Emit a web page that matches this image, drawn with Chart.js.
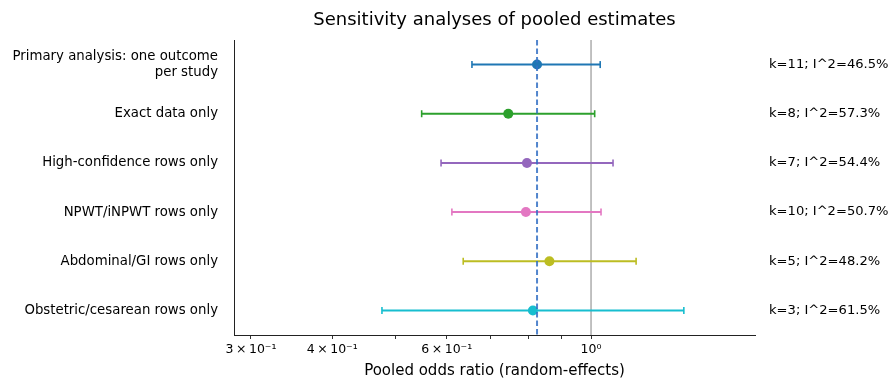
<!DOCTYPE html>
<html>
<head>
<meta charset="utf-8">
<script src="https://cdn.jsdelivr.net/npm/chart.js@4/dist/chart.umd.min.js"></script>
<style>
  html, body { margin: 0; padding: 0; background: #fff; }
  #wrap { width: 890px; height: 380px; position: relative; }
</style>
</head>
<body>
<div id="wrap"><canvas id="c" width="890" height="380"></canvas></div>
<script>
// ---- Data ----
const analyses = [
  ['Primary analysis: one outcome', 'per study'],
  'Exact data only',
  'High-confidence rows only',
  'NPWT/iNPWT rows only',
  'Abdominal/GI rows only',
  'Obstetric/cesarean rows only'
];
const estimates = [0.826, 0.746, 0.797, 0.794, 0.863, 0.814];
const lowerCI   = [0.656, 0.549, 0.588, 0.611, 0.636, 0.477];
const upperCI   = [1.033, 1.013, 1.081, 1.036, 1.173, 1.389];
const stats = [
  'k=11; I^2=46.5%',
  'k=8; I^2=57.3%',
  'k=7; I^2=54.4%',
  'k=10; I^2=50.7%',
  'k=5; I^2=48.2%',
  'k=3; I^2=61.5%'
];
const pooledPrimary = 0.826;
const nullValue = 1;
const xTickValues = [0.3, 0.4, 0.5, 0.6, 0.7, 0.8, 0.9, 1];
const xTickLabels = {0.3: '3\u2009×\u200910⁻¹', 0.4: '4\u2009×\u200910⁻¹', 0.6: '6\u2009×\u200910⁻¹', 1: '10⁰'};
const colors = ['#1f77b4', '#2ca02c', '#9467bd', '#e377c2', '#bcbd22', '#17becf'];

const FONT = "'DejaVu Sans', sans-serif";
const yMin = -0.5, yMax = 5.5;

const datasets = [];
// reference line at 1
datasets.push({
  type: 'line', data: [{x: nullValue, y: yMin}, {x: nullValue, y: yMax}],
  borderColor: '#a0a0a0', borderWidth: 1.3, pointRadius: 0, order: 4, yAxisID: 'y'
});
// pooled dashed line
datasets.push({
  type: 'line', data: [{x: pooledPrimary, y: yMin}, {x: pooledPrimary, y: yMax}],
  borderColor: 'rgba(52,112,196,0.85)', borderWidth: 2, borderDash: [5.5, 3],
  pointRadius: 0, order: 0, yAxisID: 'y'
});
analyses.forEach((a, i) => {
  datasets.push({
    type: 'line', data: [{x: lowerCI[i], y: i}, {x: upperCI[i], y: i}],
    borderColor: colors[i], borderWidth: 2,
    pointStyle: 'line', pointRotation: 90, pointRadius: 3.5,
    pointBorderColor: colors[i], pointBorderWidth: 1.6, order: 2, yAxisID: 'y'
  });
  datasets.push({
    type: 'scatter', data: [{x: estimates[i], y: i}],
    backgroundColor: colors[i], borderColor: colors[i], pointRadius: 5,
    pointBorderWidth: 0, order: 1, yAxisID: 'y'
  });
});

const titlePlugin = {
  id: 'plotTitle',
  afterDraw(chart) {
    const ctx = chart.ctx, a = chart.chartArea;
    ctx.save();
    ctx.font = '18px ' + FONT;
    ctx.fillStyle = '#000';
    ctx.textAlign = 'center';
    ctx.textBaseline = 'middle';
    ctx.fillText('Sensitivity analyses of pooled estimates', (a.left + a.right) / 2, 20);
    ctx.restore();
  }
};

new Chart(document.getElementById('c'), {
  type: 'scatter',
  data: { datasets },
  plugins: [titlePlugin],
  options: {
    responsive: false,
    animation: false,
    layout: { padding: { top: 40, left: 0, right: 0, bottom: 0 } },
    plugins: { legend: { display: false }, tooltip: { enabled: false }, title: { display: false } },
    scales: {
      x: {
        type: 'logarithmic', min: 0.2825, max: 1.787, position: 'bottom',
        afterBuildTicks: s => { s.ticks = xTickValues.map(v => ({ value: v })); },
        afterFit: s => { s.height = 45; },
        ticks: {
          autoSkip: false, maxRotation: 0, padding: 3,
          font: { family: FONT, size: 12.5 }, color: '#000',
          callback: v => xTickLabels[v] || ''
        },
        grid: { display: true, drawOnChartArea: false, drawTicks: true, tickLength: 4, color: '#333' },
        border: { display: true, color: '#222', width: 1 },
        title: { display: true, text: 'Pooled odds ratio (random-effects)', font: { family: FONT, size: 15 }, color: '#000', padding: { top: 2, bottom: 0 } }
      },
      y: {
        type: 'linear', min: yMin, max: yMax, reverse: true, position: 'left',
        afterBuildTicks: s => { s.ticks = analyses.map((_, i) => ({ value: i })); },
        afterFit: s => { s.width = 234; },
        ticks: {
          autoSkip: false, padding: 16, font: { family: FONT, size: 13.3, lineHeight: 1.15 }, color: '#000',
          callback: v => analyses[v]
        },
        grid: { display: false, drawTicks: false },
        border: { display: true, color: '#222', width: 1 }
      },
      y2: {
        type: 'linear', min: yMin, max: yMax, reverse: true, position: 'right',
        afterBuildTicks: s => { s.ticks = stats.map((_, i) => ({ value: i })); },
        afterFit: s => { s.width = 135; },
        ticks: {
          autoSkip: false, padding: 14, font: { family: FONT, size: 13.1 }, color: '#000',
          callback: v => stats[v]
        },
        grid: { display: false, drawTicks: false },
        border: { display: false }
      }
    }
  }
});
</script>
</body>
</html>
